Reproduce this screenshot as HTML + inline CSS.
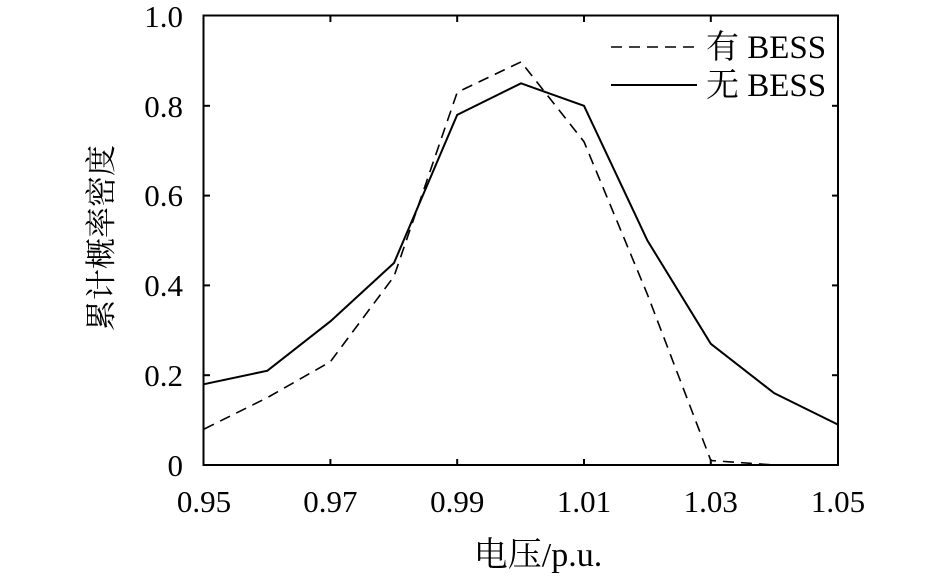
<!DOCTYPE html>
<html><head><meta charset="utf-8"><style>body{margin:0;background:#fff}svg{display:block}text{font-family:"Liberation Serif","Noto Serif CJK SC",serif;fill:#000}</style></head><body>
<svg width="945" height="581" xmlns="http://www.w3.org/2000/svg">
<rect x="203.5" y="15.5" width="634.5" height="449.5" fill="none" stroke="#000" stroke-width="2"/>
<g stroke="#000" stroke-width="2">
<line x1="330.4" y1="465" x2="330.4" y2="459"/><line x1="457.2" y1="465" x2="457.2" y2="459"/><line x1="584" y1="465" x2="584" y2="459"/><line x1="710.8" y1="465" x2="710.8" y2="459"/>
<line x1="330.4" y1="16" x2="330.4" y2="22"/><line x1="457.2" y1="16" x2="457.2" y2="22"/><line x1="584" y1="16" x2="584" y2="22"/><line x1="710.8" y1="16" x2="710.8" y2="22"/>
<line x1="204" y1="375.2" x2="210" y2="375.2"/><line x1="204" y1="285.4" x2="210" y2="285.4"/><line x1="204" y1="195.6" x2="210" y2="195.6"/><line x1="204" y1="105.8" x2="210" y2="105.8"/>
<line x1="838" y1="375.2" x2="832" y2="375.2"/><line x1="838" y1="285.4" x2="832" y2="285.4"/><line x1="838" y1="195.6" x2="832" y2="195.6"/><line x1="838" y1="105.8" x2="832" y2="105.8"/>
</g>
<g font-size="31" text-anchor="middle">
<text x="204" y="512">0.95</text><text x="330.4" y="512">0.97</text><text x="457.2" y="512">0.99</text><text x="584" y="512">1.01</text><text x="710.8" y="512">1.03</text><text x="838" y="512">1.05</text>
</g>
<g font-size="31" text-anchor="end">
<text x="183" y="476">0</text><text x="183" y="386">0.2</text><text x="183" y="296">0.4</text><text x="183" y="206">0.6</text><text x="183" y="117">0.8</text><text x="183" y="27">1.0</text>
</g>
<text x="538" y="566" font-size="34" text-anchor="middle">电压/p.u.</text>
<text transform="translate(112,238) rotate(-90)" font-size="31" text-anchor="middle">累计概率密度</text>
<polyline fill="none" stroke="#000" stroke-width="1.6" stroke-dasharray="11,7" points="204,429.1 267.4,397.6 330.4,361.7 394,276.4 457.2,92.3 521,61.9 584,141.7 647.4,294.4 710.8,460.5 774.2,465 838,465"/>
<polyline fill="none" stroke="#000" stroke-width="2" points="204,384.2 267.4,370.7 330.4,321.3 394,263 457.2,114.8 521,83.3 584,105.8 647.4,240.5 710.8,343.8 774.2,393.2 838,424.6"/>
<line x1="611" y1="47" x2="697" y2="47" stroke="#000" stroke-width="1.6" stroke-dasharray="11,7"/>
<line x1="611" y1="85" x2="697" y2="85" stroke="#000" stroke-width="2"/>
<text x="706" y="58" font-size="33">有 BESS</text>
<text x="706" y="96" font-size="33">无 BESS</text>
</svg>
</body></html>
